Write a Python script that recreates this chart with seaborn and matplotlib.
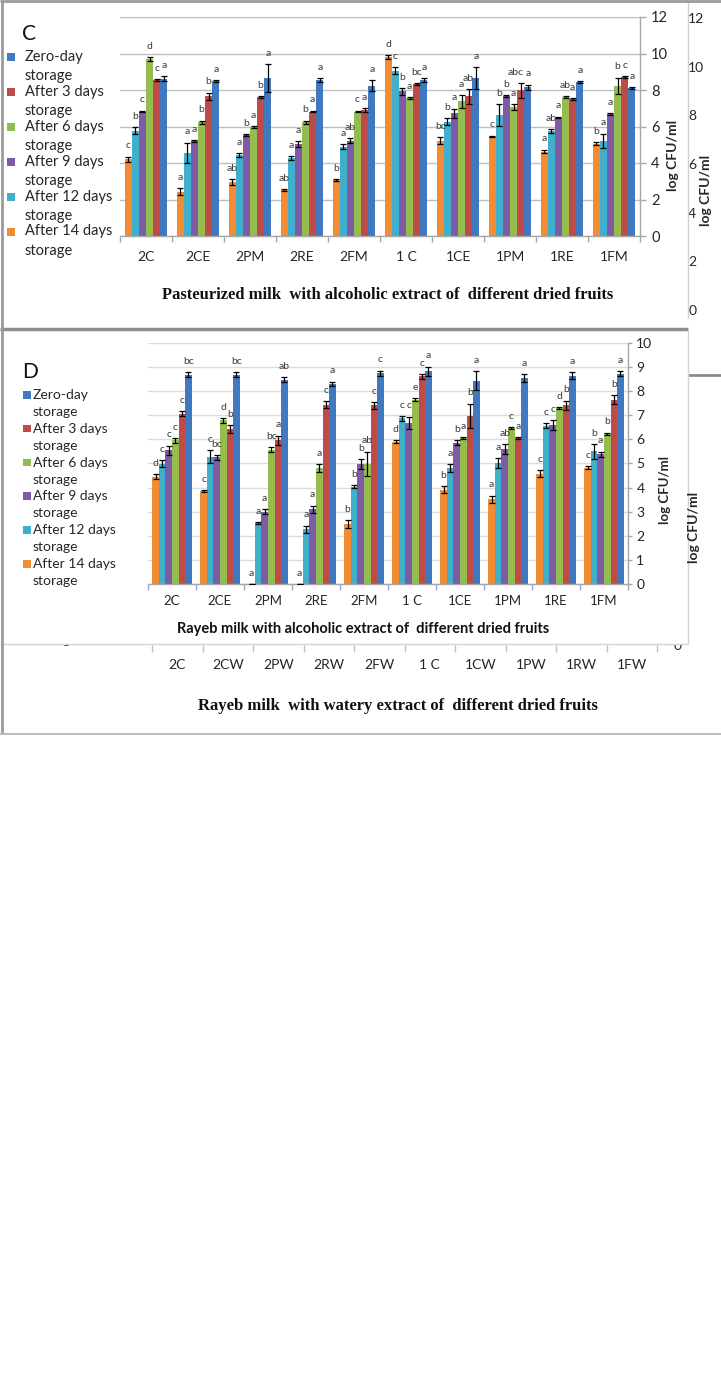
import numpy as np
import pandas as pd
import seaborn as sns
import matplotlib
matplotlib.use("Agg")
import matplotlib.pyplot as plt
from matplotlib.patches import Rectangle
from matplotlib.lines import Line2D

# ---------------- data ----------------
categories_C = ['2C', '2CE', '2PM', '2RE', '2FM', '1 C', '1CE', '1PM', '1RE', '1FM']
categories_D = ['2C', '2CE', '2PM', '2RE', '2FM', '1 C', '1CE', '1PM', '1RE', '1FM']
categories_W = ['2C', '2CW', '2PW', '2RW', '2FW', '1 C', '1CW', '1PW', '1RW', '1FW']

# bar order inside a group (left -> right)
series = ['After 14 days storage', 'After 12 days storage', 'After 9 days storage',
          'After 6 days storage', 'After 3 days storage', 'Zero-day storage']
legend_order = ['Zero-day storage', 'After 3 days storage', 'After 6 days storage',
                'After 9 days storage', 'After 12 days storage', 'After 14 days storage']
legend_lines = {'Zero-day storage': ('Zero-day', 'storage'),
                'After 3 days storage': ('After 3 days', 'storage'),
                'After 6 days storage': ('After 6 days', 'storage'),
                'After 9 days storage': ('After 9 days', 'storage'),
                'After 12 days storage': ('After 12 days', 'storage'),
                'After 14 days storage': ('After 14 days', 'storage')}
colors = {'Zero-day storage': '#4179C0', 'After 3 days storage': '#BE4B48',
          'After 6 days storage': '#94BC4E', 'After 9 days storage': '#7D5BA6',
          'After 12 days storage': '#3FAFCB', 'After 14 days storage': '#F38B35'}

# Panel C : Pasteurized milk, alcoholic extract
C_d14 = [4.20, 2.43, 2.95, 2.52, 3.07, 9.80, 5.23, 5.45, 4.63, 5.05]
C_d12 = [5.78, 4.57, 4.44, 4.26, 4.90, 9.05, 6.27, 6.64, 5.76, 5.21]
C_d9 = [6.82, 5.21, 5.54, 5.05, 5.23, 7.92, 6.73, 7.65, 6.49, 6.69]
C_d6 = [9.69, 6.22, 5.96, 6.22, 6.82, 7.55, 7.37, 7.06, 7.61, 8.23]
C_d3 = [8.56, 7.65, 7.61, 6.82, 6.91, 8.32, 7.65, 7.98, 7.50, 8.69]
C_d0 = [8.62, 8.50, 8.65, 8.56, 8.23, 8.56, 8.65, 8.14, 8.45, 8.10]
C_e14 = [0.15, 0.20, 0.15, 0.05, 0.05, 0.10, 0.20, 0.05, 0.10, 0.08]
C_e12 = [0.20, 0.55, 0.10, 0.10, 0.15, 0.20, 0.20, 0.60, 0.10, 0.40]
C_e9 = [0.05, 0.05, 0.05, 0.15, 0.15, 0.20, 0.25, 0.05, 0.05, 0.05]
C_e6 = [0.10, 0.10, 0.05, 0.10, 0.05, 0.05, 0.35, 0.15, 0.05, 0.45]
C_e3 = [0.05, 0.20, 0.05, 0.05, 0.10, 0.05, 0.40, 0.40, 0.05, 0.05]
C_e0 = [0.15, 0.05, 0.75, 0.10, 0.30, 0.10, 0.60, 0.15, 0.05, 0.05]
C_l14 = ['c', 'a', 'ab', 'ab', 'b', 'd', 'bc', 'c', 'a', 'b']
C_l12 = ['b', 'a', 'a', 'a', 'a', 'c', 'b', 'b', 'ab', 'a']
C_l9 = ['c', 'a', 'b', 'a', 'ab', 'b', 'a', 'b', 'a', 'a']
C_l6 = ['d', 'b', 'a', 'b', 'c', 'a', 'a', 'a', 'ab', 'b']
C_l3 = ['c', 'b', 'b', 'a', 'a', 'bc', 'ab', 'abc', 'a', 'c']
C_l0 = ['a', 'a', 'a', 'a', 'a', 'a', 'a', 'a', 'a', 'a']

# Panel D : Rayeb milk, alcoholic extract
D_d14 = [4.46, 3.86, 0.00, 0.00, 2.49, 5.91, 3.91, 3.52, 4.57, 4.83]
D_d12 = [4.99, 5.29, 2.52, 2.27, 4.04, 6.88, 4.81, 5.01, 6.57, 5.50]
D_d9 = [5.54, 5.26, 3.00, 3.10, 4.99, 6.70, 5.87, 5.60, 6.61, 5.39]
D_d6 = [5.96, 6.79, 5.57, 4.81, 4.99, 7.65, 6.05, 6.47, 7.30, 6.23]
D_d3 = [7.06, 6.43, 5.96, 7.44, 7.41, 8.61, 6.98, 6.05, 7.41, 7.65]
D_d0 = [8.68, 8.68, 8.48, 8.30, 8.75, 8.82, 8.43, 8.55, 8.64, 8.73]
D_e14 = [0.10, 0.05, 0.00, 0.00, 0.15, 0.05, 0.15, 0.15, 0.15, 0.05]
D_e12 = [0.15, 0.25, 0.05, 0.15, 0.05, 0.10, 0.15, 0.20, 0.10, 0.30]
D_e9 = [0.20, 0.10, 0.10, 0.15, 0.20, 0.25, 0.10, 0.20, 0.20, 0.10]
D_e6 = [0.10, 0.10, 0.10, 0.15, 0.50, 0.05, 0.05, 0.05, 0.05, 0.05]
D_e3 = [0.10, 0.15, 0.20, 0.15, 0.15, 0.10, 0.50, 0.05, 0.20, 0.20]
D_e0 = [0.10, 0.10, 0.10, 0.10, 0.10, 0.20, 0.40, 0.15, 0.15, 0.10]
D_l14 = ['d', 'c', 'a', 'a', 'b', 'd', 'b', 'a', 'c', 'c']
D_l12 = ['c', 'c', 'a', 'a', 'b', 'c', 'a', 'a', 'c', 'b']
D_l9 = ['c', 'bc', 'a', 'a', 'b', 'c', 'b', 'ab', 'c', 'a']
D_l6 = ['c', 'd', 'bc', 'a', 'ab', 'e', 'a', 'c', 'd', 'b']
D_l3 = ['c', 'b', 'a', 'c', 'c', 'c', 'b', 'a', 'b', 'b']
D_l0 = ['bc', 'bc', 'ab', 'a', 'c', 'a', 'a', 'a', 'a', 'a']

ticks_C = [0, 2, 4, 6, 8, 10, 12]
ticks_D = [0, 1, 2, 3, 4, 5, 6, 7, 8, 9, 10]
ticks_hidden = [0, 2, 4, 6, 8, 10, 12]
ticks_W = [0]

title_C = 'Pasteurized milk  with alcoholic extract of  different dried fruits'
title_D = 'Rayeb milk with alcoholic extract of  different dried fruits'
title_W = 'Rayeb milk  with watery extract of  different dried fruits'

# ---------------- figure ----------------
sns.set_theme(style='white')
plt.rcParams['font.family'] = ['Lato', 'DejaVu Sans']
W, H = 721, 1380
fig = plt.figure(figsize=(W / 100, H / 100), dpi=100)
fig.patch.set_facecolor('white')

SANS = ['Lato', 'DejaVu Sans']
SERIF = ['Liberation Serif', 'DejaVu Serif']
TXT = '#262626'


def px_axes(x0, y0, x1, y1, zorder):
    return fig.add_axes([x0 / W, 1 - y1 / H, (x1 - x0) / W, (y1 - y0) / H], zorder=zorder)


def overlay(zorder):
    a = fig.add_axes([0, 0, 1, 1], zorder=zorder)
    a.set_xlim(0, W)
    a.set_ylim(H, 0)
    a.axis('off')
    a.patch.set_alpha(0)
    return a


def hline(a, x0, x1, y, color, lw):
    a.add_line(Line2D([x0, x1], [y, y], color=color, lw=lw, solid_capstyle='butt'))


def vline(a, x, y0, y1, color, lw):
    a.add_line(Line2D([x, x], [y0, y1], color=color, lw=lw, solid_capstyle='butt'))


def draw_panel(ax, cats, vals, errs, lets, ticks, grid_color, tick_size, xpad, ypad, ylen):
    rows = []
    for s in series:
        for i, c in enumerate(cats):
            rows.append({'cat': c, 'val': vals[s][i], 'series': s})
    df = pd.DataFrame(rows)
    sns.barplot(data=df, x='cat', y='val', hue='series', order=cats, hue_order=series,
                palette=colors, width=0.82, gap=0, errorbar=None, saturation=1,
                linewidth=0, legend=False, ax=ax)
    patches = list(ax.patches)
    k = 0
    for s in series:
        xs, ys = [], []
        for i in range(len(cats)):
            p = patches[k]
            k += 1
            xs.append(p.get_x() + p.get_width() / 2)
            ys.append(p.get_height())
        ax.errorbar(xs, ys, yerr=errs[s], fmt='none', ecolor='black', elinewidth=0.9,
                    capsize=2.0, capthick=0.9, zorder=3)
        for x, y, e, t in zip(xs, ys, errs[s], lets[s]):
            dx = -3.5 if len(t) >= 3 else 0
            ax.annotate(t, (x, y + e), xytext=(dx, 4.5), textcoords='offset points',
                        ha='center', va='bottom', fontsize=7.5, color='#3a3a3a',
                        family=SANS, zorder=4)
    ax.set_xlim(-0.5, len(cats) - 0.5)
    ax.set_ylim(ticks[0], ticks[-1])
    ax.yaxis.tick_right()
    ax.set_yticks(ticks)
    ax.set_yticklabels([str(t) for t in ticks])
    ax.grid(axis='y', color=grid_color, lw=1.0)
    ax.grid(axis='x', visible=False)
    ax.set_axisbelow(True)
    for sp in ['top', 'left']:
        ax.spines[sp].set_visible(False)
    for sp in ['right', 'bottom']:
        ax.spines[sp].set_color('#A6A6A6')
        ax.spines[sp].set_linewidth(1.0)
    ax.tick_params(axis='y', which='major', right=True, left=False, length=ylen, width=1,
                   color='#A6A6A6', labelsize=tick_size, labelcolor=TXT, pad=ypad)
    ax.set_xticks(range(len(cats)))
    ax.set_xticklabels(cats)
    ax.set_xticks(np.arange(-0.5, len(cats), 1.0), minor=True)
    ax.tick_params(axis='x', which='major', length=0, labelsize=tick_size - 0.5,
                   labelcolor=TXT, pad=xpad)
    ax.tick_params(axis='x', which='minor', bottom=True, length=4, width=1, color='#A6A6A6')
    ax.set_xlabel('')
    ax.set_ylabel('')
    ax.patch.set_alpha(0)


# ---------- background layer: partially hidden charts ----------
bg = overlay(0)

# hidden chart at the right of panel C
axh = px_axes(600, 18, 684, 310, 0.5)
axh.set_ylim(ticks_hidden[0], ticks_hidden[-1])
axh.set_yticks(ticks_hidden)
axh.set_yticklabels([str(t) for t in ticks_hidden])
axh.yaxis.tick_right()
axh.tick_params(axis='y', length=0, pad=3, labelsize=10, labelcolor=TXT)
axh.set_xticks([])
for sp in axh.spines.values():
    sp.set_visible(False)
axh.patch.set_alpha(0)
bg.text(706, 190, 'log CFU/ml', rotation=90, ha='center', va='center',
        fontsize=10, fontweight='bold', color=TXT, family=SANS)

# right strip in the D region
hline(bg, 688, 721, 375, '#8C8C8C', 2.0)

# watery-extract chart underneath panel D
axw = px_axes(152, 400, 657, 645, 0.5)
axw.set_xlim(-0.5, len(categories_W) - 0.5)
axw.set_ylim(0, 10)
axw.set_xticks(range(len(categories_W)))
axw.set_xticklabels(categories_W)
axw.set_xticks(np.arange(-0.5, len(categories_W), 1.0), minor=True)
axw.tick_params(axis='x', which='major', length=0, labelsize=10, labelcolor=TXT, pad=10)
axw.tick_params(axis='x', which='minor', bottom=True, length=5, width=1, color='#BFBFBF')
axw.yaxis.tick_right()
axw.set_yticks(ticks_W)
axw.set_yticklabels([str(t) for t in ticks_W])
axw.tick_params(axis='y', length=0, pad=12, labelsize=10, labelcolor=TXT)
for sp in axw.spines.values():
    sp.set_visible(False)
axw.patch.set_alpha(0)
bg.text(33, 640, 'storage', ha='left', va='center', fontsize=10, color=TXT, family=SANS)
bg.text(398, 706, title_W, ha='center', va='center', fontsize=12, fontweight='bold',
        color='#111111', family=SERIF)

# ---------- panel C box ----------
boxC = overlay(1)
boxC.add_patch(Rectangle((0, 0), 688, 329, facecolor='white', edgecolor='none'))
vline(boxC, 688, 0, 318, '#D0D0D0', 1.0)
boxC.text(22, 34, 'C', ha='left', va='center', fontsize=15, color='#111111', family=SANS)
for j, s in enumerate(legend_order):
    y = 57 + 34.9 * j
    boxC.add_patch(Rectangle((7, y - 4), 8, 8, facecolor=colors[s], edgecolor='none'))
    l1, l2 = legend_lines[s]
    boxC.text(25, y, l1, ha='left', va='center', fontsize=10.5, color=TXT, family=SANS)
    boxC.text(25, y + 19, l2, ha='left', va='center', fontsize=10.5, color=TXT, family=SANS)
boxC.text(673, 155, 'log CFU/ml', rotation=90, ha='center', va='center', fontsize=10,
          fontweight='bold', color=TXT, family=SANS)
boxC.text(388, 295, title_C, ha='center', va='center', fontsize=12, fontweight='bold',
          color='#111111', family=SERIF)

axC = px_axes(120, 17, 640, 236, 2)
draw_panel(axC, categories_C,
           dict(zip(series, [C_d14, C_d12, C_d9, C_d6, C_d3, C_d0])),
           dict(zip(series, [C_e14, C_e12, C_e9, C_e6, C_e3, C_e0])),
           dict(zip(series, [C_l14, C_l12, C_l9, C_l6, C_l3, C_l0])),
           ticks_C, '#BFBFBF', 10.5, 11, 4, 4)

# ---------- panel D box ----------
boxD = overlay(3)
boxD.add_patch(Rectangle((0, 330), 688, 314, facecolor='white', edgecolor='none'))
hline(boxD, 0, 688, 329, '#8C8C8C', 2.5)
vline(boxD, 688, 330, 644, '#D3D3D3', 1.0)
hline(boxD, 0, 688, 644, '#D3D3D3', 1.0)
boxD.text(22, 372, 'D', ha='left', va='center', fontsize=15, color='#111111', family=SANS)
for j, s in enumerate(legend_order):
    y = 395 + 33.8 * j
    boxD.add_patch(Rectangle((23, y - 4), 7.5, 7.5, facecolor=colors[s], edgecolor='none'))
    l1, l2 = legend_lines[s]
    boxD.text(33, y, l1, ha='left', va='center', fontsize=10, color=TXT, family=SANS)
    boxD.text(33, y + 17, l2, ha='left', va='center', fontsize=10, color=TXT, family=SANS)
boxD.text(665, 490, 'log CFU/ml', rotation=90, ha='center', va='center', fontsize=9.5,
          fontweight='bold', color=TXT, family=SANS)
boxD.text(363, 629, title_D, ha='center', va='center', fontsize=10.5, fontweight='bold',
          color='#111111', family=SANS)

axD = px_axes(148, 343, 628, 584, 4)
draw_panel(axD, categories_D,
           dict(zip(series, [D_d14, D_d12, D_d9, D_d6, D_d3, D_d0])),
           dict(zip(series, [D_e14, D_e12, D_e9, D_e6, D_e3, D_e0])),
           dict(zip(series, [D_l14, D_l12, D_l9, D_l6, D_l3, D_l0])),
           ticks_D, '#D9DDE3', 10, 8, 3, 3)

# ---------- outer frame & top-most remnants ----------
top = overlay(10)
top.text(694, 527, 'log CFU/ml', rotation=90, ha='center', va='center',
         fontsize=10, fontweight='bold', color=TXT, family=SANS)
hline(top, 0, 721, 1.2, '#9A9A9A', 2.0)
vline(top, 2, 0, 734, '#9A9A9A', 2.0)
hline(top, 0, 721, 733.5, '#BDBDBD', 1.5)

fig.savefig('out.png', dpi=100, facecolor='white')
